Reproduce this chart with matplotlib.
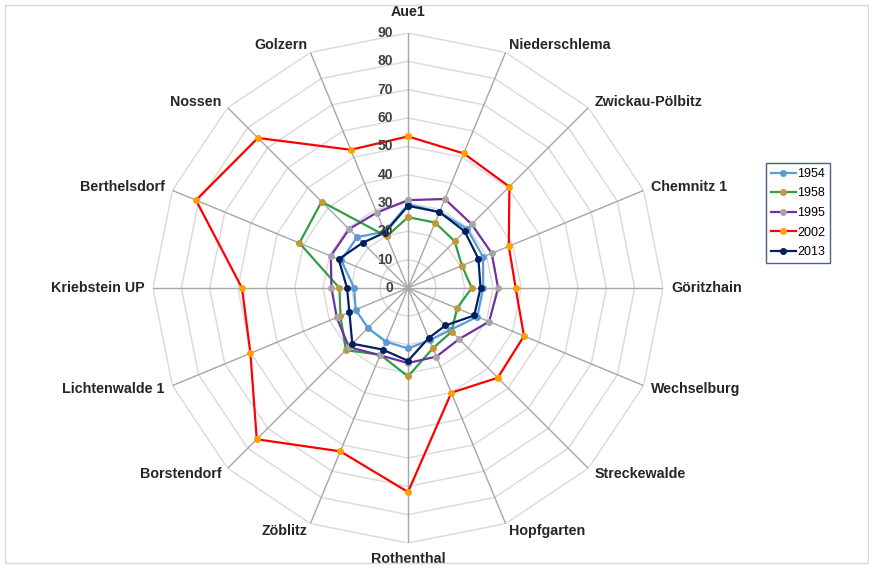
import numpy as np
import matplotlib
matplotlib.use('Agg')
import matplotlib.pyplot as plt
from matplotlib.patches import Rectangle
from matplotlib.transforms import offset_copy

# Stationen (im Uhrzeigersinn ab oben)
stationen = ['Aue1', 'Niederschlema', 'Zwickau-Pölbitz', 'Chemnitz 1', 'Göritzhain',
             'Wechselburg', 'Streckewalde', 'Hopfgarten', 'Rothenthal', 'Zöblitz',
             'Borstendorf', 'Lichtenwalde 1', 'Kriebstein UP', 'Berthelsdorf',
             'Nossen', 'Golzern']

werte_1954 = [29.5, 29, 29.5, 28.7, 26.5, 26.5, 21, 20, 21.3, 20.5, 20, 20, 19, 25.5, 25.4, 21.5]
werte_1958 = [25, 25, 23.3, 20.6, 22.5, 18.7, 21.8, 23, 31.2, 25.5, 31, 25.8, 24.2, 41.5, 43.1, 19.7]
werte_1995 = [31, 34, 31.8, 32, 31.8, 31, 25.5, 26.2, 26.5, 25.7, 29.5, 27.2, 27, 29.5, 29.4, 28.8]
werte_2002 = [53.5, 51.4, 50.6, 38.5, 38, 44.3, 44.8, 40, 72, 62.4, 75.5, 60.2, 58.6, 81, 74.9, 52.8]
werte_2013 = [29, 29, 28.3, 26.9, 25.6, 25.3, 18.7, 19.1, 25.7, 23.5, 27.8, 22.4, 21.5, 26.5, 22.6, 21.2]

jahre = ['1954', '1958', '1995', '2002', '2013']
reihen = [werte_1954, werte_1958, werte_1995, werte_2002, werte_2013]
linienfarben = ['#5b9bd5', '#2ea043', '#7030a0', '#ff0000', '#002060']
markerfarben = ['#5b9bd5', '#c09a3a', '#a6a6a6', '#ffa000', '#002060']

r_ticks = list(range(0, 100, 10))
r_max = 90

n = len(stationen)
winkel = np.linspace(0, 2 * np.pi, n, endpoint=False)
winkel_zu = np.append(winkel, winkel[0])

fig = plt.figure(figsize=(8.7, 5.68), dpi=100)
fig.patches.append(Rectangle((5 / 870, 5 / 568), 863 / 870, 558 / 568,
                             transform=fig.transFigure, fill=False,
                             edgecolor='#d9d9d9', linewidth=1))

ax = fig.add_axes([153 / 870, 25 / 568, 510 / 870, 510 / 568], projection='polar')
ax.set_theta_zero_location('N')
ax.set_theta_direction(-1)
ax.set_ylim(0, r_max)
ax.grid(False)
ax.spines['polar'].set_visible(False)
ax.set_xticks([])
ax.set_yticks([])
ax.patch.set_alpha(0)

# Netz
for r in r_ticks[1:]:
    ax.plot(winkel_zu, [r] * (n + 1), color='#d9d9d9', linewidth=1, zorder=1)
for w in winkel:
    ax.plot([w, w], [0, r_max], color='#a6a6a6', linewidth=1, zorder=1.5)

# Datenreihen
for jahr, werte, lf, mf in zip(jahre, reihen, linienfarben, markerfarben):
    ax.plot(winkel_zu, werte + werte[:1], color=lf, linewidth=1.6,
            marker='o', markersize=4, markerfacecolor=mf, markeredgecolor=mf,
            label=jahr, zorder=3)

# Achsenbeschriftung radial
trans = offset_copy(ax.transData, fig=fig, x=-15, y=0, units='dots')
for r in r_ticks:
    ax.text(0, r, str(r), transform=trans, ha='right', va='center',
            fontsize=10, fontweight='bold', color='#404040', family='Liberation Sans')

# Stationsnamen
fs = 10.3
for w, name in zip(winkel, stationen):
    deg = np.degrees(w)
    if np.isclose(deg, 0):
        ax.text(w, 97.3, name, ha='center', va='center', fontsize=fs,
                fontweight='bold', color='#262626', family='Liberation Sans')
    elif np.isclose(deg, 180):
        ax.text(w, 95.5, name, ha='center', va='center', fontsize=fs,
                fontweight='bold', color='#262626', family='Liberation Sans')
    else:
        ha = 'left' if deg < 180 else 'right'
        ax.text(w, 93, name, ha=ha, va='center', fontsize=fs,
                fontweight='bold', color='#262626', family='Liberation Sans')

leg = fig.legend(loc='upper left', bbox_to_anchor=(766 / 870, 1 - 163 / 568),
                 borderaxespad=0, frameon=True, fancybox=False, handlelength=2.0,
                 handletextpad=0.1, borderpad=0.4, labelspacing=0.6,
                 prop={'family': 'Liberation Sans', 'size': 9})
leg.get_frame().set_edgecolor('#1f3864')
leg.get_frame().set_linewidth(1)

fig.savefig('out.png', dpi=100)
